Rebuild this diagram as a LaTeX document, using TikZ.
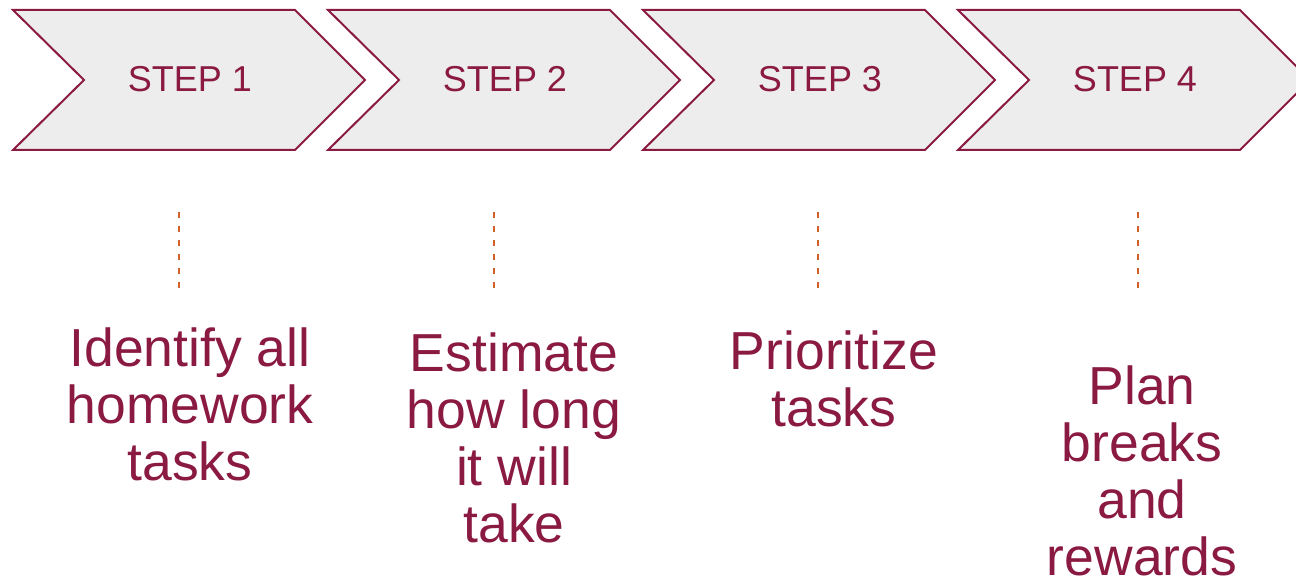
\documentclass[tikz,border=0pt]{standalone}
\usepackage{fontspec}
\setmainfont{Liberation Sans}
\definecolor{stepred}{HTML}{8B1A42}
\definecolor{stepfill}{HTML}{EDEDED}
\definecolor{dashorange}{HTML}{D2602A}
\tikzset{
  chevron/.style={draw=stepred, fill=stepfill, line width=2pt, line join=miter},
  steplabel/.style={text=stepred, font=\fontsize{36}{40}\selectfont, inner sep=0pt, anchor=base},
  tasktext/.style={text=stepred, font=\fontsize{53.5}{57}\selectfont, align=center, inner sep=0pt, anchor=north},
  guide/.style={draw=dashorange, line width=2pt, dash pattern=on 6pt off 8pt}
}
\begin{document}
\begin{tikzpicture}[x=1pt,y=-1pt]
  \useasboundingbox (0,0) rectangle (1296,580);
  \clip (0,0) rectangle (1296,580);
  % chevrons with step labels
  \foreach \i/\x in {1/13, 2/328, 3/643, 4/958}
  {
    \draw[chevron] (\x,10) -- (\x+282,10) -- (\x+352,80) -- (\x+282,150) -- (\x,150) -- (\x+71,80) -- cycle;
    \node[steplabel] (step\i) at (\x+177,92) {STEP \i};
  }
  % dashed guides
  \foreach \i/\x in {1/179, 2/494, 3/818, 4/1138}
  {
    \coordinate (guide\i top) at (\x,212);
    \coordinate (guide\i bot) at (\x,288);
    \draw[guide] (guide\i top) -- (guide\i bot);
  }
  % task texts
  \node[tasktext] (task1) at (190,328) {Identify all\\homework\\tasks};
  \node[tasktext] (task2) at (514,333) {Estimate\\how long\\it will\\take};
  \node[tasktext] (task3) at (834,331) {Prioritize\\tasks};
  \node[tasktext] (task4) at (1142,366) {Plan\\breaks\\and\\rewards};
\end{tikzpicture}
\end{document}
